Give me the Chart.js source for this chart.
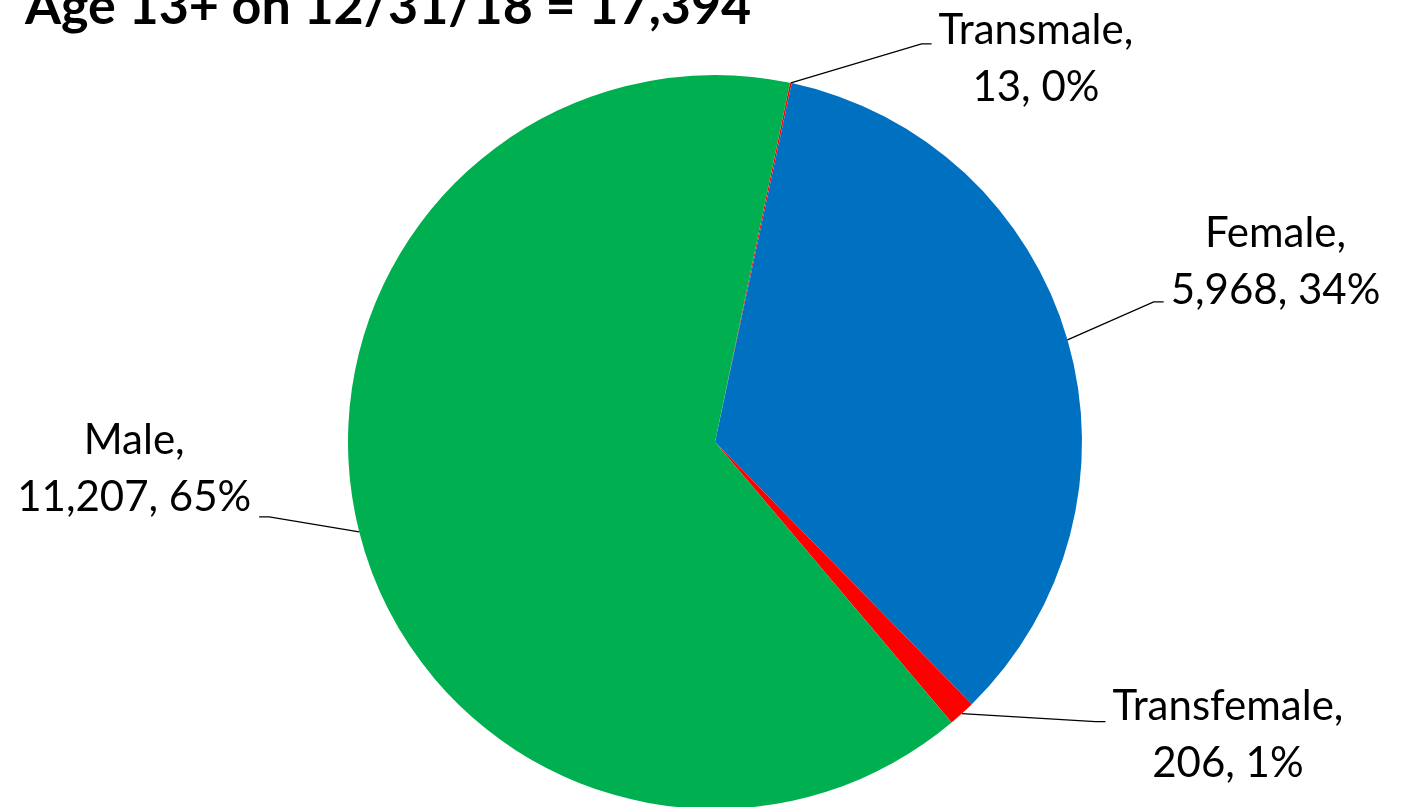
<!DOCTYPE html>
<html>
<head>
<meta charset="utf-8">
<script src="https://cdn.jsdelivr.net/npm/chart.js@4"></script>
<style>
  html, body { margin: 0; padding: 0; background: #fff; overflow: hidden; }
  #wrap { width: 1403px; height: 830px; }
</style>
</head>
<body>
<div id="wrap"><canvas id="pie" width="1403" height="830"></canvas></div>
<script>
// --- data ---
const categories = ['Transmale', 'Female', 'Transfemale', 'Male'];
const values = [13, 5968, 206, 11207];
const colors = ['#FF0000', '#0070C0', '#FF0000', '#00B050'];
const title = 'Age 13+ on 12/31/18 = 17,394';

// label placement relative to the slice edge (style only)
const labelPos = [
    { dx: 245, dy: -24, lineY: -15 },
    { dx: 208, dy: -78, lineY: 40 },
    { dx: 266, dy: 21, lineY: -13 },
    { dx: -225, dy: -63, lineY: 48 }
];

// percentages rounded so that they add to 100 (largest remainder)
function percents(vals) {
    const total = vals.reduce((a, b) => a + b, 0);
    const raw = vals.map(v => v / total * 100);
    const out = raw.map(Math.floor);
    let left = 100 - out.reduce((a, b) => a + b, 0);
    raw.map((r, i) => [r - Math.floor(r), i])
        .sort((a, b) => b[0] - a[0])
        .slice(0, left)
        .forEach(([, i]) => out[i]++);
    return out;
}
const pcts = percents(values);

const labelPlugin = {
    id: 'labels',
    afterDatasetsDraw(chart) {
        const ctx = chart.ctx;
        const meta = chart.getDatasetMeta(0);
        ctx.save();

        // title (top cut off like the original)
        ctx.fillStyle = '#000';
        ctx.font = 'bold 52px Lato';
        ctx.textAlign = 'left';
        ctx.textBaseline = 'alphabetic';
        ctx.fillText(title, 25, 24);

        ctx.font = '42px Lato';
        ctx.textBaseline = 'middle';
        ctx.textAlign = 'center';
        const lh = 57;

        meta.data.forEach((arc, i) => {
            const mid = (arc.startAngle + arc.endAngle) / 2;
            const ex = arc.x + Math.cos(mid) * arc.outerRadius;
            const ey = arc.y + Math.sin(mid) * arc.outerRadius;
            const p = labelPos[i];
            const cx = ex + p.dx, cy = ey + p.dy;
            const l1 = categories[i] + ',';
            const l2 = values[i].toLocaleString('en-US') + ', ' + pcts[i] + '%';
            const w = Math.max(ctx.measureText(l1).width, ctx.measureText(l2).width);

            // leader line
            const endX = p.dx > 0 ? cx - w / 2 - 7 : cx + w / 2 + 8;
            const elbowX = p.dx > 0 ? endX - 10 : endX + 10;
            const endY = cy + p.lineY;
            ctx.strokeStyle = '#000';
            ctx.lineWidth = 1.3;
            ctx.beginPath();
            ctx.moveTo(ex, ey);
            ctx.lineTo(elbowX, endY);
            ctx.lineTo(endX, endY);
            ctx.stroke();

            ctx.fillStyle = '#000';
            ctx.fillText(l1, cx, cy - lh / 2);
            ctx.fillText(l2, cx, cy + lh / 2);
        });
        ctx.restore();
    }
};

new Chart(document.getElementById('pie'), {
    type: 'pie',
    data: {
        labels: categories,
        datasets: [{
            data: values,
            backgroundColor: colors,
            borderWidth: 0
        }]
    },
    options: {
        responsive: false,
        animation: false,
        rotation: 11.8,
        layout: { padding: { left: 348, right: 321, top: 75, bottom: 21 } },
        plugins: {
            legend: { display: false },
            tooltip: { enabled: false }
        }
    },
    plugins: [labelPlugin]
});
</script>
</body>
</html>
